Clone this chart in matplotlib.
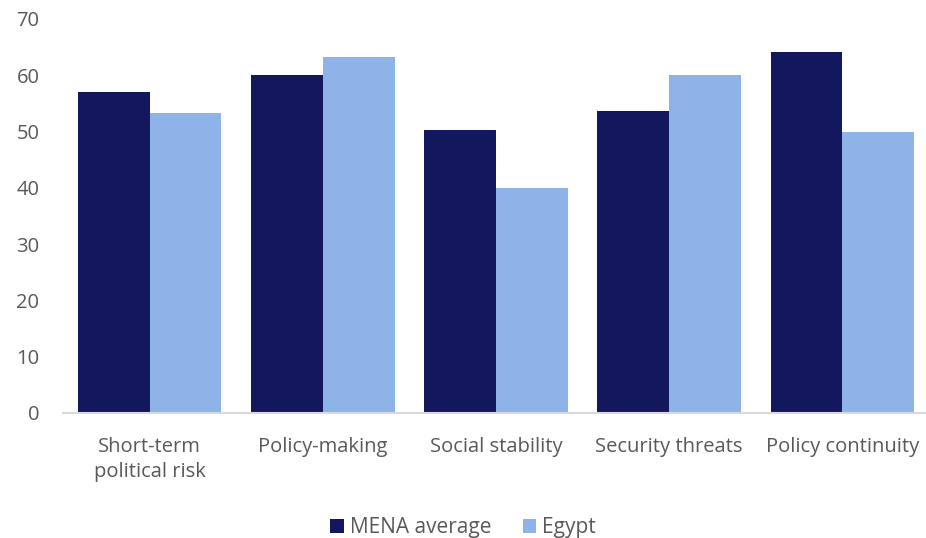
import numpy as np
import matplotlib.pyplot as plt

categories = ['Short-term\npolitical risk', 'Policy-making', 'Social stability',
              'Security threats', 'Policy continuity']
mena = [57.0, 60.0, 50.3, 53.6, 64.2]
egypt = [53.3, 63.3, 40.0, 60.0, 50.0]

plt.rcParams['font.family'] = ['Open Sans', 'DejaVu Sans']
grey = '#595959'

fig = plt.figure(figsize=(9.26, 5.38), dpi=100)
ax = fig.add_axes([63 / 926, 125 / 538, 866 / 926, 394 / 538])

x = np.arange(len(categories))
w = 0.415
ax.bar(x - w / 2, mena, width=w, color='#12175E', label='MENA average')
ax.bar(x + w / 2, egypt, width=w, color='#8DB3E8', label='Egypt')

ax.set_xlim(-0.5, len(categories) - 0.5)
ax.set_ylim(0, 70)
ax.set_yticks(range(0, 71, 10))
ax.set_xticks(x)
ax.set_xticklabels(categories, linespacing=1.35)
ax.tick_params(axis='both', length=0, colors=grey, labelsize=14.5)
ax.tick_params(axis='x', pad=17)
ax.tick_params(axis='y', pad=17)
for s in ['top', 'right', 'left']:
    ax.spines[s].set_visible(False)
ax.spines['bottom'].set_color('#D9D9D9')
ax.spines['bottom'].set_linewidth(1.5)

leg = fig.legend(loc='center', bbox_to_anchor=(0.5, 10 / 538), ncol=2, frameon=False,
                 fontsize=15, handlelength=0.65, handleheight=0.65, columnspacing=1.5,
                 handletextpad=0.3)
for t in leg.get_texts():
    t.set_color(grey)

fig.savefig('out.png', dpi=100)
